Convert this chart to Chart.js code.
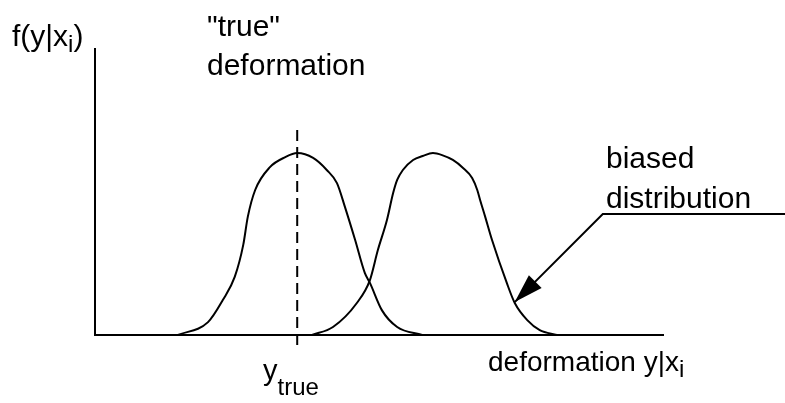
<!DOCTYPE html>
<html>
<head>
<meta charset="utf-8">
<script src="https://cdn.jsdelivr.net/npm/chart.js@4.4.1/dist/chart.umd.min.js"></script>
<style>
  html, body { margin: 0; padding: 0; background: #fff; }
  #wrap { width: 785px; height: 403px; }
</style>
</head>
<body>
<div id="wrap"><canvas id="chart" width="785" height="403"></canvas></div>
<script>
// curve around the true deformation
const trueX = [14.6, 19.9, 22.5, 24.6, 26.1, 26.9, 28.2, 30.8, 33.5, 35.6, 38.4, 40.8, 42.6, 44.0, 45.8, 47.5, 48.4, 50.5, 53.2, 57.6];
const trueY = [0, 4.5, 12.2, 20.3, 31.5, 41.3, 50.7, 58.7, 62.2, 63.6, 61.9, 57.7, 53.1, 44.8, 33.2, 21.7, 18.2, 8.7, 2.8, 0];
// biased curve
const biasX = [38.2, 41.9, 46.1, 48.4, 49.8, 51.4, 52.5, 53.2, 54.2, 56.0, 57.7, 59.5, 61.1, 63.0, 64.8, 66.4, 67.3, 67.8, 68.7, 69.9, 72.5, 73.9, 76.1, 78.3, 81.3];
const biasY = [0, 2.8, 11.2, 19.2, 29.7, 40.2, 49.7, 54.2, 57.7, 61.2, 62.6, 63.6, 62.9, 61.2, 58.4, 54.9, 50.7, 47.2, 41.3, 33.2, 18.2, 11.2, 5.2, 1.7, 0];
// y_true marker
const yTrue = 35.6;
const dashY = [71.7, -3.8];
// leader line of "biased distribution" (ends at the arrow tip)
const leaderX = [121.5, 89.4, 73.9];
const leaderY = [42.3, 42.3, 11.5];

const pts = (xs, ys) => xs.map((x, i) => ({ x, y: ys[i] }));
const FONT = '"Liberation Sans", Arial, Helvetica, sans-serif';

const labels = {
  id: 'labels',
  afterDatasetsDraw(chart) {
    const { ctx, scales: { x, y } } = chart;
    ctx.save();
    ctx.fillStyle = '#000';
    ctx.textBaseline = 'alphabetic';

    const put = (parts, px, py) => {
      let cx = px;
      parts.forEach(([txt, size, dy]) => {
        ctx.font = `${size}px ${FONT}`;
        ctx.fillText(txt, cx, py + dy);
        cx += ctx.measureText(txt).width;
      });
    };

    put([['f(y|x', 30, 0], ['i', 24, 6], [')', 30, 0]], 12, 46);
    put([['"true"', 30, 0]], 207, 36);
    put([['deformation', 30, 0]], 207, 75);
    put([['biased', 30, 0]], 606, 168);
    put([['distribution', 30, 0]], 606, 208);
    put([['deformation y|x', 28, 0], ['i', 24, 6]], 488, 371);
    put([['y', 29, 0], ['true', 24, 15]], 263, 380);

    // arrow head at the end of the leader
    const n = leaderX.length;
    const tx = x.getPixelForValue(leaderX[n - 1]), ty = y.getPixelForValue(leaderY[n - 1]);
    const fx = x.getPixelForValue(leaderX[n - 2]), fy = y.getPixelForValue(leaderY[n - 2]);
    const a = Math.atan2(ty - fy, tx - fx);
    const len = 29, half = 9;
    const bx = tx - len * Math.cos(a), by = ty - len * Math.sin(a);
    ctx.beginPath();
    ctx.moveTo(tx, ty);
    ctx.lineTo(bx + half * Math.sin(a), by - half * Math.cos(a));
    ctx.lineTo(bx - half * Math.sin(a), by + half * Math.cos(a));
    ctx.closePath();
    ctx.fill();
    ctx.restore();
  }
};

const line = (data, extra) => Object.assign({
  data, showLine: true, borderColor: '#000', borderWidth: 2,
  pointRadius: 0, fill: false, clip: false
}, extra);

new Chart(document.getElementById('chart'), {
  type: 'scatter',
  data: {
    datasets: [
      line(pts(trueX, trueY), { cubicInterpolationMode: 'monotone' }),
      line(pts(biasX, biasY), { cubicInterpolationMode: 'monotone' }),
      line(dashY.map(v => ({ x: yTrue, y: v })), { borderDash: [11, 6] }),
      line(pts(leaderX, leaderY), { borderWidth: 2 })
    ]
  },
  options: {
    responsive: false,
    devicePixelRatio: 1,
    animation: false,
    layout: { padding: { left: 95, right: 122, top: 49, bottom: 68 } },
    plugins: { legend: { display: false }, tooltip: { enabled: false } },
    scales: {
      x: {
        type: 'linear', min: 0, max: 100,
        ticks: { display: false }, grid: { display: false },
        border: { display: true, color: '#000', width: 2 },
        afterFit: s => { s.height = 0; }
      },
      y: {
        type: 'linear', min: 0, max: 100,
        ticks: { display: false }, grid: { display: false },
        border: { display: true, color: '#000', width: 2 },
        afterFit: s => { s.width = 0; }
      }
    }
  },
  plugins: [labels]
});
</script>
</body>
</html>
